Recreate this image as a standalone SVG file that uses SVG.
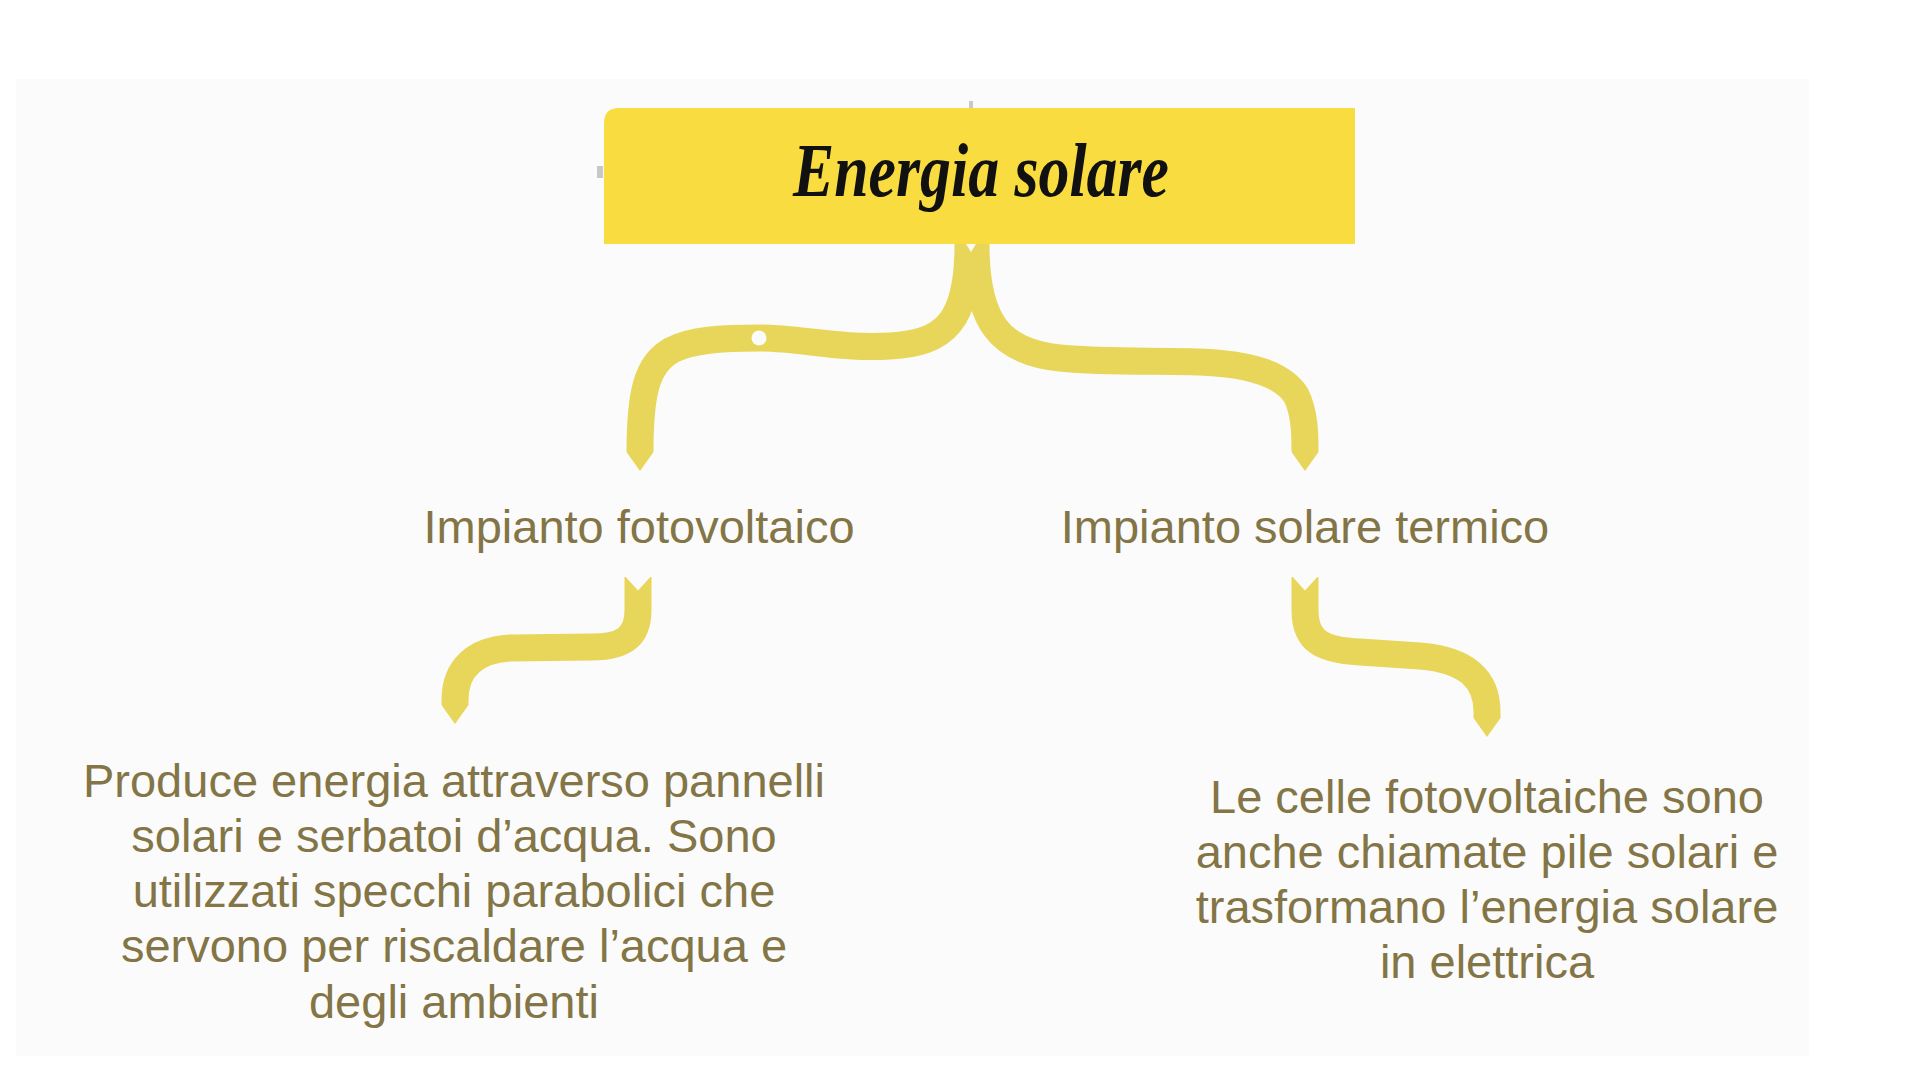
<svg xmlns="http://www.w3.org/2000/svg" width="1919" height="1080" viewBox="0 0 1919 1080">
<style>
.conn{fill:none;stroke:#e8d65a;stroke-width:27;stroke-linecap:butt;marker-end:url(#tip)}
.lbl{font-family:"Liberation Sans",Arial,sans-serif;font-size:47px;fill:#837545;text-anchor:middle}
.title{font-family:"Liberation Serif","DejaVu Serif",serif;font-style:italic;font-weight:bold;font-size:76px;fill:#111;text-anchor:middle}
</style>
<defs>
<marker id="tip" viewBox="0 0 7 10" refX="0" refY="5" markerWidth="0.7" markerHeight="1" orient="auto" markerUnits="strokeWidth">
<path d="M0 0 L7 5 L0 10 Z" fill="#e8d65a"/>
</marker>
<marker id="notch" viewBox="0 -5 5 10" refX="0" refY="0" markerWidth="0.5" markerHeight="1" orient="auto" markerUnits="strokeWidth">
<path d="M-0.5 -5 L5 0 L-0.5 5 Z" fill="#fbfbfb"/>
</marker>
</defs>
<rect width="1919" height="1080" fill="#ffffff"/>
<rect x="16" y="79" width="1793" height="977" fill="#fbfbfb"/>

<g id="connectors">
<path class="conn" d="M968 244 C968 322 945 343 890 346 C840 349 800 338 760 338 C720 338 692 340 672 350 C646 364 640 395 640 452"/>
<path class="conn" d="M976 244 C976 322 1000 352 1060 358 C1110 363 1160 360 1200 362 C1250 364 1282 374 1296 395 C1305 413 1305 435 1305 452"/>
<path class="conn" style="marker-start:url(#notch)" d="M638 577 L638 610 C638 638 622 647 592 647 L510 648 C475 650 455 668 455 700 L455 705"/>
<path class="conn" style="marker-start:url(#notch)" d="M1305 577 L1305 610 C1305 640 1320 650 1360 652 L1420 656 C1468 660 1487 680 1487 712 L1487 718"/>
<circle cx="759" cy="338" r="7.5" fill="#fbfbfb"/>
<path d="M966 244 L976 244 L971 252 Z" fill="#fbfbfb"/>
</g>

<g id="node-root">
<path d="M619 108 H1355 V244 H604 V123 Q604 108 619 108 Z" fill="#f9dd40"/>
<rect x="597" y="166" width="6" height="12" fill="#c8c8c8"/>
<rect x="969" y="101" width="4" height="7" fill="#c8c8c8"/>
<text class="title" x="981" y="196" textLength="376" lengthAdjust="spacingAndGlyphs">Energia solare</text>
</g>

<g id="node-fotovoltaico">
<text class="lbl" x="639" y="543">Impianto fotovoltaico</text>
</g>
<g id="node-termico">
<text class="lbl" x="1305" y="543">Impianto solare termico</text>
</g>

<g id="node-desc-left">
<text class="lbl" x="454" y="797">Produce energia attraverso pannelli</text>
<text class="lbl" x="454" y="852">solari e serbatoi d’acqua. Sono</text>
<text class="lbl" x="454" y="907">utilizzati specchi parabolici che</text>
<text class="lbl" x="454" y="962">servono per riscaldare l’acqua e</text>
<text class="lbl" x="454" y="1018">degli ambienti</text>
</g>

<g id="node-desc-right">
<text class="lbl" x="1487" y="813">Le celle fotovoltaiche sono</text>
<text class="lbl" x="1487" y="868">anche chiamate pile solari e</text>
<text class="lbl" x="1487" y="923">trasformano l’energia solare</text>
<text class="lbl" x="1487" y="978">in elettrica</text>
</g>
</svg>
